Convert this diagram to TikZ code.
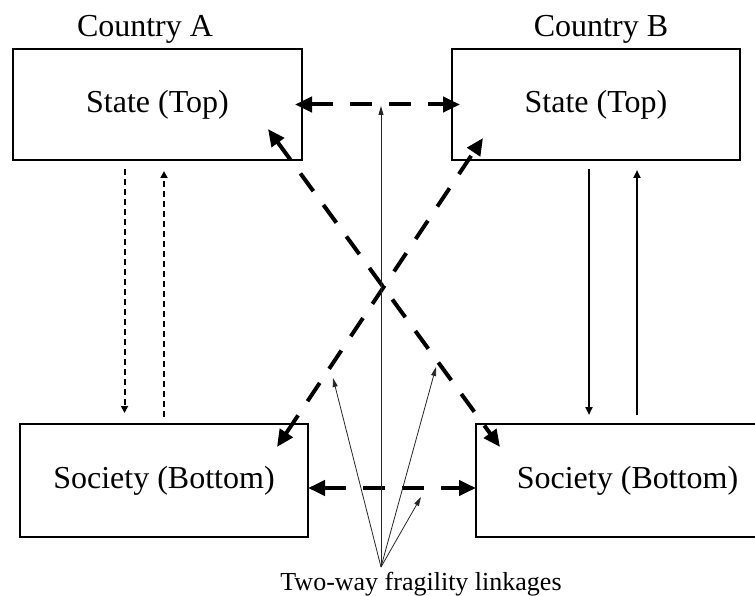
\documentclass[tikz,border=0pt]{standalone}
\usepackage{fontspec}
\setmainfont{Liberation Serif}
\usepackage{xcolor}
\usepackage{tikz}
\usetikzlibrary{positioning, arrows.meta}

\tikzset{
    box/.style={draw, line width=2.8pt, outer sep=0pt, inner sep=0pt, font=\fontsize{32}{38}\selectfont},
    fragile/.style={line width=4pt, dash pattern=on 22pt off 17pt, {Triangle[length=17pt,width=15pt]}-{Triangle[length=17pt,width=15pt]}},
    weaklink/.style={line width=2pt, dash pattern=on 6pt off 4pt, -{Triangle[length=7pt,width=7pt]}},
    firmlink/.style={line width=2pt, -{Triangle[length=8pt,width=7pt]}},
    pointer/.style={black!85, line width=0.8pt, -{Triangle[length=9pt,width=5pt]}}
}

\begin{document}
\begin{tikzpicture}[x=1pt, y=-1pt]
    \useasboundingbox (0,0) rectangle (755,596);
    \clip (0,0) rectangle (755,596);

    \coordinate (TA) at (157.5, 104.5);
    \coordinate (TB) at (596, 104.5);
    \coordinate (BA) at (164, 480.5);
    \coordinate (BB) at (627.5, 480.5);

    \coordinate (SRC) at (381, 567);
    \coordinate (P0) at (381, 106);
    \coordinate (P1) at (333, 378);
    \coordinate (P2) at (436, 367);
    \coordinate (P3) at (421, 497);

    \node [box, minimum width=289pt, minimum height=111pt] (topA) at (TA) {State (Top)};
    \node [box, minimum width=288pt, minimum height=111pt] (topB) at (TB) {State (Top)};
    \node [box, minimum width=288pt, minimum height=113pt] (botA) at (BA) {Society (Bottom)};
    \node [box, minimum width=303pt, minimum height=113pt] (botB) at (BB) {Society (Bottom)};

    \node [anchor=base, font=\fontsize{32}{38}\selectfont] (ctryA) at (145, 37) {Country A};
    \node [anchor=base, font=\fontsize{32}{38}\selectfont] (ctryB) at (601, 37) {Country B};
    \node [anchor=base, font=\fontsize{26}{31}\selectfont] (linkages) at (421, 590) {Two-way fragility linkages};

    % inside country A
    \draw [weaklink, shorten <=9pt, shorten >=11pt] ([xshift=-33pt]topA.south) -- ([xshift=-33pt]topA.south |- botA.north);
    \draw [weaklink, shorten <=7pt, shorten >=11pt] ([xshift=6.5pt]topA.south |- botA.north) -- ([xshift=6.5pt]topA.south);

    % inside country B
    \draw [firmlink, shorten <=9pt, shorten >=9pt] ([xshift=-7pt]topB.south) -- ([xshift=-7pt]topB.south |- botB.north);
    \draw [firmlink, shorten <=9pt, shorten >=10pt] ([xshift=41pt]topB.south |- botB.north) -- ([xshift=41pt]topB.south);

    % between the countries
    \draw [fragile, shorten <=-7pt, shorten >=-8pt] (topA.east) -- (topB.west);
    \draw [fragile] ([yshift=-7.5pt]botA.east) -- ([yshift=-7.5pt]botB.west);
    \draw [fragile] ([xshift=-31pt, yshift=-23pt]botA.north east) -- ([xshift=31pt, yshift=22pt]topB.south west);
    \draw [fragile] ([xshift=-34pt, yshift=31pt]topA.south east) -- ([xshift=24pt, yshift=-23pt]botB.north west);

    % fan of pointers
    \draw [pointer] (SRC) -- (P0);
    \draw [pointer] (SRC) -- (P1);
    \draw [pointer] (SRC) -- (P2);
    \draw [pointer] (SRC) -- (P3);
\end{tikzpicture}
\end{document}
